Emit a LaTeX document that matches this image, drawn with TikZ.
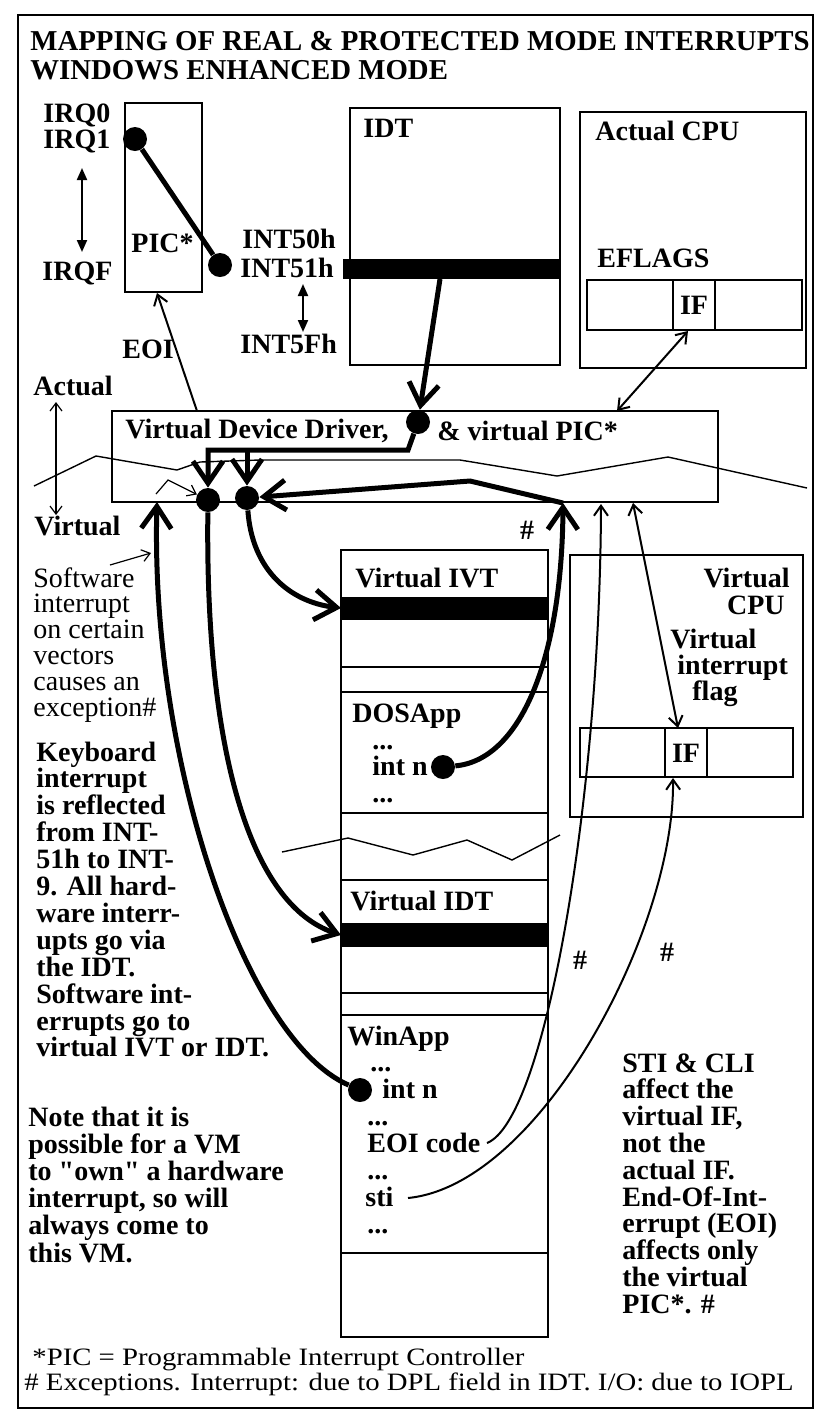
\documentclass[tikz,border=0pt]{standalone}
\usepackage{fontspec}
\usepackage{graphicx}
\setmainfont{Liberation Serif}
\newfontfamily\qfont{Liberation Serif}
\usetikzlibrary{arrows.meta}
\begin{document}
\begin{tikzpicture}[x=0.5pt,y=-0.5pt,
  fr/.style={draw=black, line width=1pt},
  wave/.style={draw=black, line width=0.7pt},
  tb/.style={inner sep=0pt, anchor=base west, font=\bfseries\fontsize{14pt}{13.5pt}\selectfont},
  tr/.style={inner sep=0pt, anchor=base west, font=\fontsize{14pt}{13.5pt}\selectfont},
  dot/.style={circle, fill=black, inner sep=0pt, minimum size=12pt},
  thk/.style={line width=2.5pt, -{Straight Barb[length=11pt,width=15pt]}},
  thkl/.style={line width=2.5pt},
  med/.style={line width=1pt, -{Straight Barb[length=5pt,width=7pt]}},
  meddbl/.style={line width=1pt, {Straight Barb[length=5pt,width=7pt]}-{Straight Barb[length=5pt,width=7pt]}},
  thinarr/.style={line width=0.6pt, -{Straight Barb[length=4pt,width=6pt]}},
  thindbl/.style={line width=0.6pt, {Straight Barb[length=4pt,width=6pt]}-{Straight Barb[length=4pt,width=6pt]}},
  soliddbl/.style={line width=1pt, {Triangle[length=6pt,width=5pt]}-{Triangle[length=6pt,width=5pt]}}
]
\useasboundingbox (0,0) rectangle (816,1421);
\fill[white] (0,0) rectangle (816,1421);

% outer frame
\draw[fr] (18,15) rectangle (813,1408);

% title
\node[tb, font=\bfseries\fontsize{14.4pt}{12pt}\selectfont] (t1) at (30,50) {MAPPING OF REAL \& PROTECTED MODE INTERRUPTS};
\node[tb, font=\bfseries\fontsize{14.4pt}{12pt}\selectfont] (t2) at (30,79) {WINDOWS ENHANCED MODE};

% PIC
\draw[fr] (125,103) rectangle (202,292);
\node[tb] (pic) at (131,252) {PIC*};
\node[tb] (irq0) at (43,122) {IRQ0};
\node[tb] (irq1) at (43,148) {IRQ1};
\node[tb] (irqf) at (42,280) {IRQF};
\coordinate (ia1) at (82,168);
\coordinate (ia2) at (82,252);
\draw[soliddbl] (ia1) -- (ia2);
\node[dot] (pd1) at (135,139) {};
\node[dot] (pd2) at (220,265) {};
\draw[thkl] (pd1) -- (pd2);

\node[tb] (int50) at (242,248) {INT50h};
\node[tb] (int51) at (240,277) {INT51h};
\node[tb] (int5f) at (240,353) {INT5Fh};
\coordinate (na1) at (303,284);
\coordinate (na2) at (303,332);
\draw[soliddbl] (na1) -- (na2);

\node[tb] (eoi) at (122,358) {EOI};
\node[tb] (actual) at (33,395) {Actual};
\node[tb] (virtual) at (34,535) {Virtual};
\coordinate (av1) at (56,402);
\coordinate (av2) at (56,515);
\draw[thindbl] (av1) -- (av2);

% IDT
\draw[fr] (350,108) rectangle (560,365);
\fill[black] (343,259) rectangle (560,279);
\node[tb] (idt) at (363,137) {IDT};

% Actual CPU
\draw[fr] (580,112) rectangle (806,368);
\node[tb] (acpu) at (595,140) {Actual CPU};
\node[tb] (efl) at (597,267) {EFLAGS};
\draw[fr] (587,280) rectangle (802,330);
\draw[fr] (673,280) -- (673,330);
\draw[fr] (715,280) -- (715,330);
\node[tb, anchor=center] (if1) at (694,305) {IF};

% VxD
\draw[fr] (112,411) rectangle (718,502);
\node[tb] (vdd) at (125,438) {Virtual Device Driver,};
\node[tb] (vpic) at (437,440) {\& virtual PIC*};
\draw[wave] (34,486) -- (96,456) -- (177,470) -- (200,462) -- (260,460) -- (460,460) -- (557,476) -- (668,457) -- (807,488);

% stack
\draw[fr] (341,550) rectangle (548,1337);
\fill[black] (341,597) rectangle (548,620);
\fill[black] (341,923) rectangle (548,947);
\foreach \yy in {667,692,813,880,993,1015,1253}
  \draw[fr] (341,\yy) -- (548,\yy);
\draw[wave] (282,852) -- (348,838) -- (413,855) -- (467,840) -- (512,860) -- (560,835);
\node[tb] (vivt) at (355,587) {Virtual IVT};
\node[tb] (dosapp) at (352,722) {DOSApp};
\node[tb] (dd1) at (372,749) {...};
\node[tb] (dint) at (372,775) {int n};
\node[tb] (dd2) at (372,802) {...};
\node[tb] (vidt) at (350,910) {Virtual IDT};
\node[tb] (winapp) at (347,1045) {WinApp};
\node[tb] (w1) at (370,1071) {...};
\node[tb] (wint) at (382,1098) {int n};
\node[tb] (w2) at (367,1125) {...};
\node[tb] (weoi) at (367,1152) {EOI code};
\node[tb] (w3) at (367,1179) {...};
\node[tb] (wsti) at (365,1206) {sti};
\node[tb] (w4) at (367,1233) {...};

% Virtual CPU
\draw[fr] (570,555) rectangle (803,817);
\node[tb, anchor=base east] (vc1) at (790,587) {Virtual};
\node[tb, anchor=base east] (vc2) at (785,614) {CPU};
\node[tb] (vf1) at (670,648) {Virtual};
\node[tb] (vf2) at (677,674) {interrupt};
\node[tb] (vf3) at (692,700) {flag};
\draw[fr] (580,728) rectangle (793,777);
\draw[fr] (665,728) -- (665,777);
\draw[fr] (707,728) -- (707,777);
\node[tb, anchor=center] (if2) at (686,753) {IF};

% left texts
\foreach \s [count=\i] in {Software,interrupt,on certain,vectors,causes an,exception\#}
  \node[tr] (sw\i) at (33,{587+25.8*(\i-1)}) {\s};
\foreach \s [count=\i] in {Keyboard,interrupt,is reflected,from INT-,51h to INT-,9. All hard-,ware interr-,upts go via,the IDT.,Software int-,errupts go to,virtual IVT or IDT.}
  \node[tb] (kb\i) at (36,{761+26.9*(\i-1)}) {\s};
\foreach \s [count=\i] in {Note that it is,possible for a VM,to {\qfont\bfseries "}own{\qfont\bfseries "} a hardware,{interrupt, so will},always come to,this VM.}
  \node[tb] (nt\i) at (28,{1126+27.2*(\i-1)}) {\s};
\foreach \s [count=\i] in {STI \& CLI,affect the,{virtual IF,},not the,actual IF.,End-Of-Int-,errupt (EOI),affects only,the virtual,PIC*. \#}
  \node[tb] (st\i) at (622,{1072+26.8*(\i-1)}) {\s};

% footnotes
\node[tr, font=\fontsize{12.5pt}{10pt}\selectfont] (fn1) at (32,1365) {\scalebox{1.15}[1]{*PIC = Programmable Interrupt Controller}};
\node[tr, font=\fontsize{12.5pt}{10pt}\selectfont] (fn2) at (24,1390) {\scalebox{1.15}[1]{\# Exceptions. Interrupt: due to DPL field in IDT. I/O: due to IOPL}};

% hash labels
\node[tb, anchor=center] (h1) at (527,530) {\#};
\node[tb, anchor=center] (h2) at (580,960) {\#};
\node[tb, anchor=center] (h3) at (667,952) {\#};

% dots
\node[dot] (vd0) at (418,422) {};
\node[dot] (vd1) at (208,500) {};
\node[dot] (vd2) at (247,498) {};
\node[dot] (dd) at (443,767) {};
\node[dot] (wd) at (360,1090) {};

% connectors
\coordinate (eoiS) at (197,411);
\coordinate (eoiE) at (157,293);
\draw[med] (eoiS) -- (eoiE);

\coordinate (idtb) at (440,279);
\draw[thk] (idtb) -- (vd0);

\coordinate (b1) at (408,450);
\coordinate (b2) at (208,450);
\coordinate (b3) at (247,450);
\draw[thk] (vd0) -- (b1) -- (b2) -- (vd1);
\draw[thk] (b3) -- (vd2);

\coordinate (vin) at (563,503);
\draw[thk] (dd) .. controls (520,760) and (562,660) .. (vin);
\coordinate (b4) at (470,481);
\draw[thk] (vin) -- (b4) -- (vd2);

\coordinate (ivtb) at (341,608);
\draw[thk] (vd2) .. controls (252,570) and (290,602) .. (ivtb);
\coordinate (vidtb) at (341,935);
\draw[thk] (vd1) .. controls (205,750) and (250,905) .. (vidtb);
\coordinate (vsw) at (157,502);
\draw[thk] (wd) .. controls (245,1040) and (150,760) .. (vsw);

\coordinate (swA) at (110,565);
\coordinate (swB) at (151,553);
\draw[thinarr] (swA) -- (swB);
\coordinate (bt1) at (156,494);
\coordinate (bt2) at (168,480);
\draw[thinarr] (bt1) -- (bt2) -- (vd1);

\coordinate (eoc) at (487,1143);
\coordinate (veoi) at (601,504);
\draw[med] (eoc) .. controls (545,1120) and (600,800) .. (veoi);
\coordinate (stc) at (408,1198);
\coordinate (vifb) at (673,778);
\draw[med] (stc) .. controls (540,1185) and (675,930) .. (vifb);

\coordinate (vif1) at (633,503);
\coordinate (vift) at (678,728);
\draw[meddbl] (vif1) -- (vift);
\coordinate (efif) at (688,331);
\coordinate (vxt) at (617,411);
\draw[meddbl] (efif) -- (vxt);
\end{tikzpicture}
\end{document}
